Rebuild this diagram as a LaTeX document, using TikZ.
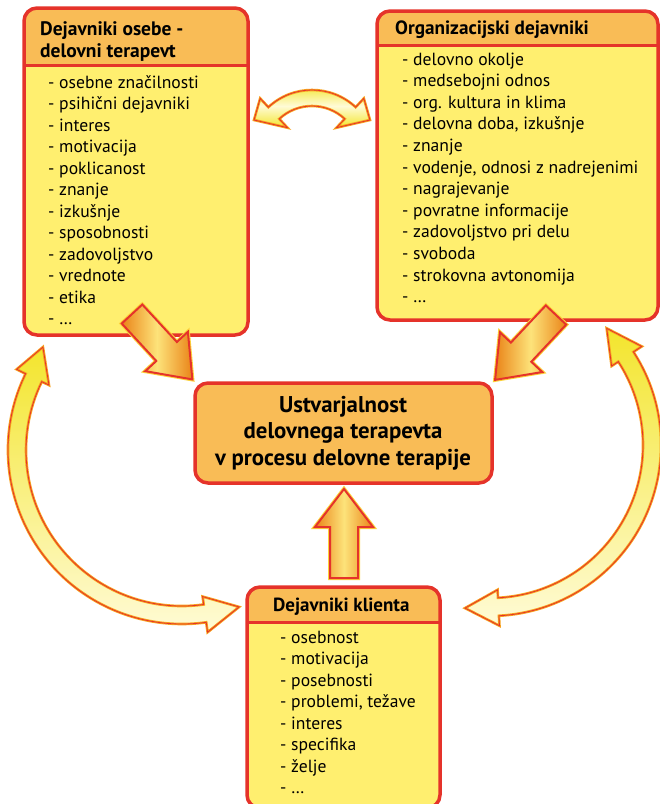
\documentclass[tikz,border=0pt]{standalone}
\usepackage{fontspec}
\setmainfont{PT Sans}
\definecolor{bred}{HTML}{E5332A}
\definecolor{bhead}{HTML}{F9BC56}
\definecolor{bbody}{HTML}{FFEF6F}
\definecolor{aorange}{HTML}{EA8418}
\definecolor{alight}{HTML}{FDE37A}
\definecolor{aglow}{HTML}{FCD23A}
\definecolor{arcY}{HTML}{F3E52D}
\definecolor{arcP}{HTML}{FFFBD6}
\definecolor{arcE}{HTML}{F7A21E}
\newcommand{\factorbox}[6]{%
  \node[frame, minimum width={#4-#2}, minimum height={#5-#3}, anchor=north west] (#1) at (#2,#3) {};
  \fill[bbody, rounded corners=13pt] (#1.north west) rectangle (#1.south east);
  \begin{scope}
    \clip[rounded corners=13pt] (#1.north west) rectangle (#1.south east);
    \fill[bhead] (#1.north west) rectangle (#4,#6);
  \end{scope}
  \draw[bred, line width=3pt] (#2,#6) -- (#4,#6);
  \draw[border] (#1.north west) rectangle (#1.south east);
}
\newcommand{\blockarw}[3]{%
  \begin{scope}[shift={(#1,#2)}, rotate=#3]
    \path[blk] (0,-14) -- (51,-14) -- (51,-29) -- (89,0) -- (51,29) -- (51,14) -- (0,14) -- cycle;
  \end{scope}
}
\begin{document}
\begin{tikzpicture}[x=1pt,y=-1pt,
  frame/.style={inner sep=0pt, outer sep=0pt},
  border/.style={draw=bred, line width=3.5pt, rounded corners=13pt},
  item/.style={anchor=base west, inner sep=0pt, font=\fontsize{17.6}{21.5}\selectfont},
  head/.style={anchor=base west, inner sep=0pt, font=\bfseries\fontsize{19.5}{22}\selectfont},
  ctext/.style={anchor=base, inner sep=0pt, font=\bfseries\fontsize{22.8}{26}\selectfont},
  blk/.style={draw=bred, line width=2pt, line join=miter, left color=aorange, right color=aorange, middle color=alight,
    preaction={draw=aglow, line width=4pt}},
  carc/.style={draw=arcE, line width=2.6pt, line join=miter, postaction={draw=bred, line width=0.8pt}}]
\useasboundingbox (0,0) rectangle (660,804);
\clip (0,0) rectangle (660,804);
\fill[white] (0,0) rectangle (660,804);

% boxes
\factorbox{L}{24}{8}{248}{335}{65}
\factorbox{R}{377}{11}{658}{320}{45}
\factorbox{B}{247}{587}{440}{808}{622}
\node[frame, minimum width=297, minimum height=100, anchor=north west] (C) at (195,383) {};
\draw[border, fill=bhead] (C.north west) rectangle (C.south east);

% headers
\node[head] (Lh1) at (40,35) {Dejavniki osebe -};
\node[head] (Lh2) at (40,57) {delovni terapevt};
\node[head, font=\bfseries\fontsize{19.2}{22}\selectfont] (Rh) at (395,34) {Organizacijski dejavniki};
\node[head, font=\bfseries\fontsize{19}{22}\selectfont] (Bh) at (273,611) {Dejavniki klienta};
\node[ctext] (C1) at (343,412) {Ustvarjalnost};
\node[ctext] (C2) at (343,438.5) {delovnega terapevta};
\node[ctext] (C3) at (343,465) {v procesu delovne terapije};

% lists
\foreach \t [count=\i from 0] in {osebne značilnosti, psihični dejavniki, interes, motivacija, poklicanost, znanje, izkušnje, sposobnosti, zadovoljstvo, vrednote, etika, \ldots}
  \node[item] (L\i) at (48, 88+21.5*\i) {- \t};
\foreach \t [count=\i from 0] in {delovno okolje, medsebojni odnos, org. kultura in klima, {delovna doba, izkušnje}, znanje, {vodenje, odnosi z nadrejenimi}, nagrajevanje, povratne informacije, zadovoljstvo pri delu, svoboda, strokovna avtonomija, \ldots}
  \node[item] (R\i) at (402, 65+21.6*\i) {- \t};
\foreach \t [count=\i from 0] in {osebnost, motivacija, posebnosti, {problemi, težave}, interes, specifika, želje, \ldots}
  \node[item] (B\i) at (280, 643+21.5*\i) {- \t};

% block arrows
\blockarw{132}{314}{-47.3}
\blockarw{556}{315}{-133.2}
\blockarw{344}{578}{90}

% curved double arrows
\begin{scope}[shift={(182,450)}]
  \path[carc, top color=arcY, bottom color=arcP]
    (206:174) arc[start angle=206, end angle=82, radius=174] -- (82:184) -- (70:167) -- (82:148) -- (82:156)
    arc[start angle=82, end angle=206, radius=156] -- (206:148) -- (216.5:173) -- (206:184) -- cycle;
\end{scope}
\begin{scope}[shift={(490,445)}]
  \path[carc, top color=arcY, bottom color=arcP]
    (-33:171) arc[start angle=-33, end angle=87, radius=171] -- (87:181) -- (98.7:165) -- (87:145) -- (87:153)
    arc[start angle=87, end angle=-33, radius=153] -- (-33:145) -- (-45:165) -- (-33:181) -- cycle;
\end{scope}
\begin{scope}[shift={(312,154)}]
  \path[carc, top color=arcY, bottom color=arcY, middle color=arcP]
    (227:64) arc[start angle=227, end angle=313, radius=64] -- (313:76) -- (58,-34) -- (313:36) -- (313:48)
    arc[start angle=313, end angle=227, radius=48] -- (227:36) -- (-58,-34) -- (227:76) -- cycle;
\end{scope}
\end{tikzpicture}
\end{document}
